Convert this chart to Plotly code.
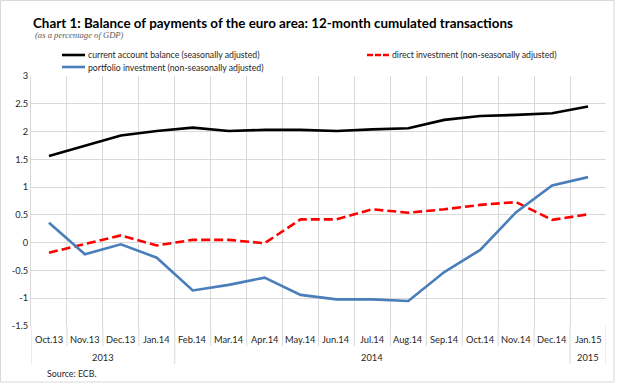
import plotly.graph_objects as go

categories = ["Oct.13", "Nov.13", "Dec.13", "Jan.14", "Feb.14", "Mar.14", "Apr.14", "May.14",
              "Jun.14", "Jul.14", "Aug.14", "Sep.14", "Oct.14", "Nov.14", "Dec.14", "Jan.15"]
current_account = [1.56, 1.74, 1.93, 2.01, 2.07, 2.01, 2.03, 2.03, 2.01, 2.04, 2.06, 2.21, 2.28, 2.30, 2.33, 2.45]
direct_investment = [-0.18, -0.02, 0.13, -0.05, 0.05, 0.05, -0.01, 0.42, 0.42, 0.60, 0.54, 0.60, 0.68, 0.73, 0.41, 0.51]
portfolio_investment = [0.36, -0.21, -0.03, -0.27, -0.86, -0.76, -0.63, -0.94, -1.02, -1.02, -1.05, -0.53, -0.13, 0.55, 1.03, 1.18]
series_names = ["current account balance (seasonally adjusted)",
                "direct investment (non-seasonally adjusted)",
                "portfolio investment (non-seasonally adjusted)"]
year_groups = [("2013", 0, 3), ("2014", 4, 14), ("2015", 15, 15)]
y_ticks = [3, 2.5, 2, 1.5, 1, 0.5, 0, -0.5, -1, -1.5]
y_tick_labels = ["3", "2.5", "2", "1.5", "1", "0.5", "0", "-0.5", "-1", "-1.5"]

W, H = 624, 384
L, R, T, B = 31, 18, 76, 58
PW, PH = W - L - R, H - T - B
FONT = "Lato"
TXT = "#262626"
xs = list(range(len(categories)))

styles = [dict(color="#000000", width=2.6),
          dict(color="#FF0000", width=2.6, dash="9px,4px"),
          dict(color="#4A7EBB", width=2.6)]
series = [current_account, direct_investment, portfolio_investment]

fig = go.Figure()
for name, vals, st in zip(series_names, series, styles):
    fig.add_trace(go.Scatter(x=xs, y=vals, mode="lines", name=name, line=st, showlegend=False))


def py(pix):
    return (H - B - pix) / PH


def px(pix):
    return (pix - L) / PW


shapes = []
annotations = []
n = len(categories)
for i, c in enumerate(categories):
    annotations.append(dict(x=i, y=py(339), xref="x", yref="paper", text=c, showarrow=False,
                            font=dict(family=FONT, size=9.3, color=TXT), xanchor="center", yanchor="middle"))
group_edges = set()
for name, a, b in year_groups:
    group_edges.add(a - 0.5)
    group_edges.add(b + 0.5)
for k in range(n + 1):
    xb = k - 0.5
    bottom = py(364) if xb in group_edges else py(346)
    shapes.append(dict(type="line", xref="x", yref="paper", x0=xb, x1=xb, y0=0, y1=bottom,
                       line=dict(color="#D9D9D9", width=1)))
for name, a, b in year_groups:
    annotations.append(dict(x=(a + b) / 2, y=py(357), xref="x", yref="paper", text=name, showarrow=False,
                            font=dict(family=FONT, size=9.3, color=TXT), xanchor="center", yanchor="middle"))

annotations.append(dict(x=px(45), y=py(373), xref="paper", yref="paper", text="Source: ECB.", showarrow=False,
                        font=dict(family=FONT, size=8.8, color=TXT), xanchor="left", yanchor="middle"))
annotations.append(dict(x=px(33), y=py(34.5), xref="paper", yref="paper", text="<i>(as a percentage of GDP)</i>",
                        showarrow=False, font=dict(family="Liberation Serif", size=8.6, color="#595959"),
                        xanchor="left", yanchor="middle"))

# legend (manual, two columns)
legend_pos = [(62, 85, 55), (367, 389, 55), (62, 85, 67)]
for name, st, (x0, x1, yy) in zip(series_names, styles, legend_pos):
    ln = dict(color=st["color"], width=2.6)
    if "dash" in st:
        ln["dash"] = "6px,2px"
    shapes.append(dict(type="line", xref="paper", yref="paper", x0=px(x0), x1=px(x1), y0=py(yy), y1=py(yy),
                       line=ln))
    annotations.append(dict(x=px(x1 + 0.5), y=py(yy), xref="paper", yref="paper", text=name, showarrow=False,
                            font=dict(family=FONT, size=8.7, color=TXT), xanchor="left", yanchor="middle"))

shapes.append(dict(type="rect", xref="paper", yref="paper", x0=px(0.5), x1=px(614), y0=py(382), y1=py(0.5),
                   line=dict(color="#D9D9D9", width=1), layer="below"))

fig.update_layout(
    width=W, height=H,
    margin=dict(l=L, r=R, t=T, b=B, autoexpand=False),
    paper_bgcolor="white", plot_bgcolor="white",
    title=dict(text="<b>Chart 1: Balance of payments of the euro area: 12-month cumulated transactions</b>",
               x=33 / W, xanchor="left", y=1 - 23.5 / H, yanchor="middle", xref="container", yref="container",
               font=dict(family=FONT, size=13.4, color="#000000")),
    font=dict(family=FONT, size=9.3, color=TXT),
    showlegend=False,
    xaxis=dict(range=[-0.5, n - 0.5], tickvals=[k - 0.5 for k in range(n + 1)], ticktext=[""] * (n + 1),
               showgrid=True, gridcolor="#D9D9D9", gridwidth=1, zeroline=False, showline=False, ticks="",
               fixedrange=True),
    yaxis=dict(range=[-1.5, 3], tickvals=y_ticks, ticktext=y_tick_labels, showgrid=True, gridcolor="#D9D9D9",
               gridwidth=1, zeroline=False, showline=True, linecolor="#D9D9D9", ticks="", ticklen=0,
               tickfont=dict(family=FONT, size=9.3, color=TXT), fixedrange=True),
    shapes=shapes, annotations=annotations,
)

fig.write_html("out.html", config={"displayModeBar": False, "staticPlot": True},
               post_script="document.body.style.margin='0px';document.body.style.overflow='hidden';")
